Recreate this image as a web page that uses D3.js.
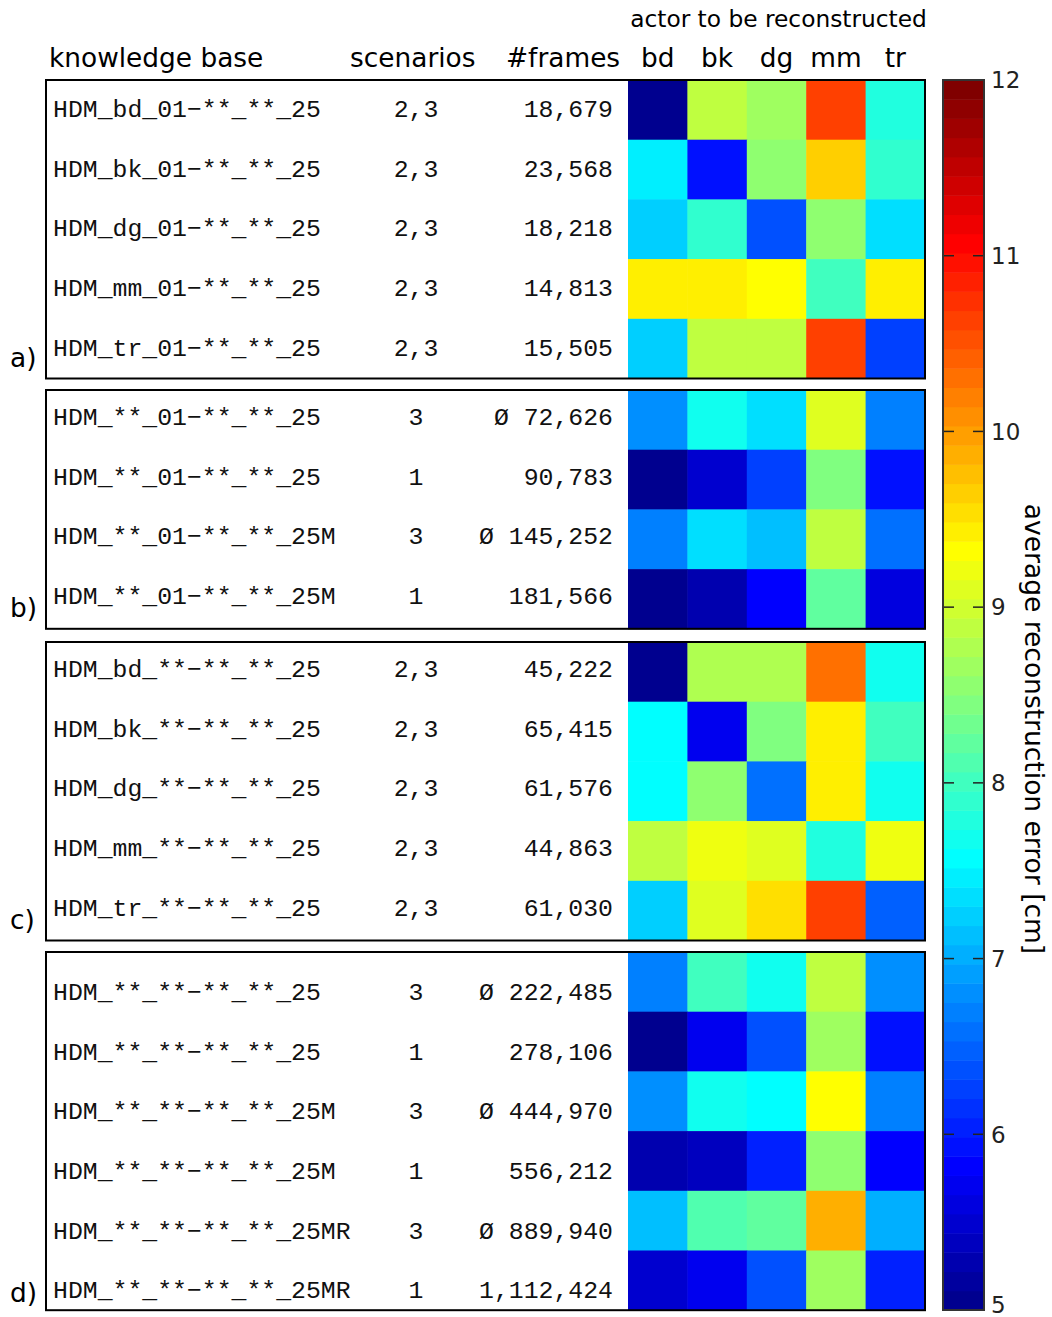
<!DOCTYPE html>
<meta charset="utf-8">
<style>
  body { margin: 0; background: #fff; }
  svg { display: block; }
  .sans { font-family: "DejaVu Sans", sans-serif; fill: #000; }
  .mono { font-family: "Liberation Mono", monospace; font-size: 24.8px; fill: #111; }
</style>
<body>
<div id="chart"></div>
<script src="https://cdn.jsdelivr.net/npm/d3@7"></script>
<script>

// data
var actors = ["bd", "bk", "dg", "mm", "tr"];
var panelLabels = ["a)", "b)", "c)", "d)"];
var panelOfRow = [0,0,0,0,0, 1,1,1,1, 2,2,2,2,2, 3,3,3,3,3,3];

var knowledgeBase = [
  "HDM_bd_01−**_**_25", "HDM_bk_01−**_**_25", "HDM_dg_01−**_**_25", "HDM_mm_01−**_**_25", "HDM_tr_01−**_**_25",
  "HDM_**_01−**_**_25", "HDM_**_01−**_**_25", "HDM_**_01−**_**_25M", "HDM_**_01−**_**_25M",
  "HDM_bd_**−**_**_25", "HDM_bk_**−**_**_25", "HDM_dg_**−**_**_25", "HDM_mm_**−**_**_25", "HDM_tr_**−**_**_25",
  "HDM_**_**−**_**_25", "HDM_**_**−**_**_25", "HDM_**_**−**_**_25M", "HDM_**_**−**_**_25M",
  "HDM_**_**−**_**_25MR", "HDM_**_**−**_**_25MR"
];
var scenarios = [
  "2,3", "2,3", "2,3", "2,3", "2,3",
  "3", "1", "3", "1",
  "2,3", "2,3", "2,3", "2,3", "2,3",
  "3", "1", "3", "1", "3", "1"
];
var frames = [
  "18,679", "23,568", "18,218", "14,813", "15,505",
  "Ø 72,626", "90,783", "Ø 145,252", "181,566",
  "45,222", "65,415", "61,576", "44,863", "61,030",
  "Ø 222,485", "278,106", "Ø 444,970", "556,212", "Ø 889,940", "1,112,424"
];
// average reconstruction error [cm], columns = actors
var errors = [
  [5.05, 8.88, 8.66, 10.63, 7.79],
  [7.46, 5.93, 8.56, 9.65, 7.90],
  [7.24, 7.90, 6.37, 8.56, 7.35],
  [9.43, 9.43, 9.32, 8.01, 9.43],
  [7.24, 8.88, 8.88, 10.63, 6.26],

  [6.81, 7.68, 7.35, 9.10, 6.70],
  [5.05, 5.49, 6.26, 8.45, 5.93],
  [6.70, 7.35, 7.13, 8.88, 6.59],
  [5.05, 5.27, 5.82, 8.23, 5.60],

  [5.05, 8.77, 8.77, 10.31, 7.68],
  [7.57, 5.71, 8.45, 9.43, 8.01],
  [7.57, 8.56, 6.59, 9.43, 7.68],
  [8.88, 9.21, 9.10, 7.79, 9.21],
  [7.24, 9.10, 9.54, 10.63, 6.48],

  [6.70, 8.01, 7.68, 8.88, 6.81],
  [5.05, 5.71, 6.37, 8.66, 5.93],
  [6.81, 7.68, 7.57, 9.32, 6.70],
  [5.27, 5.38, 6.04, 8.56, 5.82],
  [7.13, 8.12, 8.23, 9.87, 7.02],
  [5.49, 5.71, 6.37, 8.66, 6.04]
];
var colorTicks = [5, 6, 7, 8, 9, 10, 11, 12];
var colorDomain = [5, 12];

// layout
var width = 1052, height = 1317;
var panelTops = [80, 390, 642, 952];
var textShift = [7, 5, 5, 18];   // baseline offset from row centre
var labelShift = [12, 12, 12, 8];
var rowH = 59.7;
var frameLeft = 46, frameRight = 925;
var heatLeft = 628;

// jet colormap with 64 levels (matlab style)
function jet(i) { // i = 1..64
  var r, g, b;
  if (i <= 8) { r = 0; g = 0; b = 0.5 + i / 16; }
  else if (i <= 24) { r = 0; g = (i - 8) / 16; b = 1; }
  else if (i <= 40) { r = (i - 24) / 16; g = 1; b = 1 - r; }
  else if (i <= 56) { r = 1; g = 1 - (i - 40) / 16; b = 0; }
  else { r = 1 - (i - 56) / 16; g = 0; b = 0; }
  return d3.rgb(r * 255, g * 255, b * 255).formatHex();
}
var jetColors = d3.range(1, 65).map(jet);
var color = d3.scaleQuantize().domain(colorDomain).range(jetColors);

var svg = d3.select("#chart").append("svg")
  .attr("width", width)
  .attr("height", height);

var x = d3.scaleBand().domain(actors).range([heatLeft, frameRight]);

// headers
svg.append("text").attr("class", "sans")
  .attr("x", (heatLeft + frameRight) / 2 + 2).attr("y", 27)
  .attr("text-anchor", "middle").style("font-size", "23.3px")
  .text("actor to be reconstructed");

svg.append("text").attr("class", "sans").attr("x", 49).attr("y", 67)
  .style("font-size", "26.4px").text("knowledge base");
svg.append("text").attr("class", "sans").attr("x", 350).attr("y", 67)
  .style("font-size", "26.4px").text("scenarios");
svg.append("text").attr("class", "sans").attr("x", 506).attr("y", 67)
  .style("font-size", "26.4px").text("#frames");

svg.selectAll(".actorLabel")
  .data(actors)
  .enter().append("text")
  .attr("class", "sans actorLabel")
  .attr("x", function(d) { return x(d) + x.bandwidth() / 2; })
  .attr("y", 67)
  .attr("text-anchor", "middle")
  .style("font-size", "26.4px")
  .text(function(d) { return d; });

// panels
panelLabels.forEach(function(label, p) {
  var rows = d3.range(knowledgeBase.length).filter(function(r) { return panelOfRow[r] == p; });
  var top = panelTops[p];
  var y = d3.scaleBand().domain(rows).range([top, top + rows.length * rowH]);
  var g = svg.append("g");

  rows.forEach(function(r) {
    g.selectAll(".cell-" + r)
      .data(errors[r])
      .enter().append("rect")
      .attr("x", function(d, i) { return x(actors[i]); })
      .attr("y", y(r))
      .attr("width", x.bandwidth() + 0.5)
      .attr("height", y.bandwidth() + 0.5)
      .attr("fill", function(d) { return color(d); });
  });

  var cy = function(r) { return y(r) + y.bandwidth() / 2 + textShift[p]; };

  g.selectAll(".kb").data(rows).enter().append("text")
    .attr("class", "mono").attr("x", 53).attr("y", cy)
    .text(function(r) { return knowledgeBase[r]; });
  g.selectAll(".sc").data(rows).enter().append("text")
    .attr("class", "mono").attr("x", 416).attr("y", cy)
    .attr("text-anchor", "middle")
    .text(function(r) { return scenarios[r]; });
  g.selectAll(".fr").data(rows).enter().append("text")
    .attr("class", "mono").attr("x", 613).attr("y", cy)
    .attr("text-anchor", "end")
    .text(function(r) { return frames[r]; });

  var bottom = top + rows.length * rowH;
  g.append("rect")
    .attr("x", frameLeft).attr("y", top)
    .attr("width", frameRight - frameLeft).attr("height", bottom - top)
    .attr("fill", "none").attr("stroke", "#000").attr("stroke-width", 2);

  svg.append("text").attr("class", "sans")
    .attr("x", 10).attr("y", bottom - labelShift[p])
    .style("font-size", "26.4px")
    .text(label);
});

// colorbar
var cbLeft = 943, cbWidth = 41, cbTop = 80, cbBottom = 1310;
var yc = d3.scaleLinear().domain(colorDomain).range([cbBottom, cbTop]);
var step = (colorDomain[1] - colorDomain[0]) / jetColors.length;

svg.append("g").selectAll("rect")
  .data(jetColors)
  .enter().append("rect")
  .attr("x", cbLeft)
  .attr("y", function(d, i) { return yc(colorDomain[0] + (i + 1) * step); })
  .attr("width", cbWidth)
  .attr("height", function(d, i) { return yc(colorDomain[0] + i * step) - yc(colorDomain[0] + (i + 1) * step) + 0.5; })
  .attr("fill", function(d) { return d; });

var tickLen = 11;
var cbTicks = svg.append("g").selectAll("g")
  .data(colorTicks.slice(1, -1))
  .enter().append("g");
cbTicks.append("line")
  .attr("x1", cbLeft).attr("x2", cbLeft + tickLen)
  .attr("y1", function(d) { return yc(d); }).attr("y2", function(d) { return yc(d); })
  .attr("stroke", "#222").attr("stroke-width", 1.5);
cbTicks.append("line")
  .attr("x1", cbLeft + cbWidth - tickLen).attr("x2", cbLeft + cbWidth)
  .attr("y1", function(d) { return yc(d); }).attr("y2", function(d) { return yc(d); })
  .attr("stroke", "#222").attr("stroke-width", 1.5);

svg.append("rect")
  .attr("x", cbLeft).attr("y", cbTop)
  .attr("width", cbWidth).attr("height", cbBottom - cbTop)
  .attr("fill", "none").attr("stroke", "#333").attr("stroke-width", 2);

svg.append("g").selectAll("text")
  .data(colorTicks)
  .enter().append("text")
  .attr("class", "sans")
  .attr("x", 991)
  .attr("y", function(d) { return Math.min(yc(d), 1305); })
  .attr("dy", "0.36em")
  .style("font-size", "23px")
  .style("fill", "#222")
  .text(function(d) { return d; });

svg.append("text").attr("class", "sans")
  .attr("transform", "translate(1025,729) rotate(90)")
  .attr("text-anchor", "middle")
  .style("font-size", "26.5px")
  .text("average reconstruction error [cm]");

</script>
</body>
